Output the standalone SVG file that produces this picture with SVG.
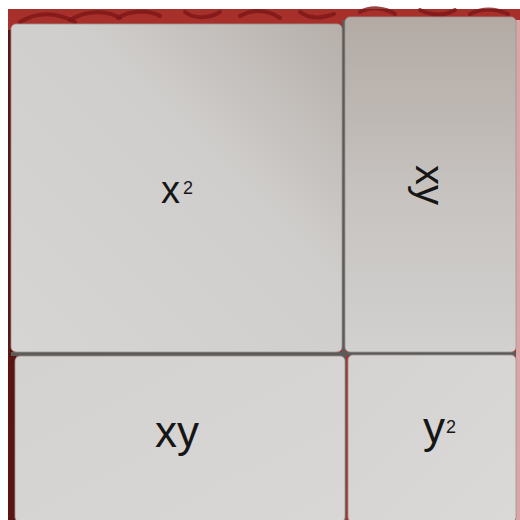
<svg xmlns="http://www.w3.org/2000/svg" width="520" height="520" viewBox="0 0 520 520">
  <defs>
    <linearGradient id="gTL" x1="0" y1="1" x2="1" y2="0">
      <stop offset="0" stop-color="#d6d5d4"/>
      <stop offset="0.6" stop-color="#d0cecc"/>
      <stop offset="1" stop-color="#b6afaa"/>
    </linearGradient>
    <linearGradient id="gTR" x1="0" y1="0" x2="0" y2="1">
      <stop offset="0" stop-color="#b3aaa4"/>
      <stop offset="0.5" stop-color="#c6c2bf"/>
      <stop offset="1" stop-color="#d2d1d0"/>
    </linearGradient>
    <linearGradient id="gBL" x1="0" y1="0" x2="1" y2="1">
      <stop offset="0" stop-color="#d3d2d1"/>
      <stop offset="1" stop-color="#d8d7d6"/>
    </linearGradient>
    <linearGradient id="gBR" x1="0" y1="0" x2="1" y2="1">
      <stop offset="0" stop-color="#d4d3d2"/>
      <stop offset="1" stop-color="#dad9d8"/>
    </linearGradient>
    <style>
      .lbl { font-family: "Liberation Sans", Arial, sans-serif; fill: #161616; }
      .tile { stroke: #9a9592; stroke-width: 0.8; }
      .swirl { fill: none; stroke: #7c1818; stroke-width: 4; stroke-linecap: round; opacity: 0.8; }
    </style>
  </defs>

  <!-- photo margin and tablecloth -->
  <rect x="0" y="0" width="520" height="520" fill="#ffffff"/>
  <rect x="8" y="9" width="512" height="511" fill="#a8302b"/>
  <rect x="8" y="30" width="8" height="490" fill="#5c1412"/>
  <rect x="516" y="20" width="4" height="500" fill="#d9a5a5"/>
  <g id="cloth-pattern">
    <path class="swirl" d="M20 22 C40 10 60 14 75 22"/>
    <path class="swirl" d="M70 20 C90 8 110 12 120 18"/>
    <path class="swirl" d="M118 18 C130 10 150 10 160 16"/>
    <path class="swirl" d="M185 12 C195 20 210 18 220 12"/>
    <path class="swirl" d="M240 16 C255 8 268 10 280 18"/>
    <path class="swirl" d="M300 12 C312 20 322 18 334 14"/>
    <path class="swirl" d="M360 12 C372 6 385 8 395 14"/>
    <path class="swirl" d="M420 10 C432 16 445 16 455 10"/>
    <path class="swirl" d="M470 14 C482 8 495 8 508 14"/>
  </g>

  <!-- gap shadows -->
  <rect x="342" y="20" width="4" height="500" fill="#5e5a58"/>
  <rect x="11" y="352" width="505" height="4" fill="#5e5a58"/>

  <g id="tile-x2">
    <rect class="tile" x="11" y="24" width="331" height="328" rx="5" fill="url(#gTL)"/>
    <text class="lbl" x="161" y="203" font-size="38">x</text>
    <text class="lbl" x="183" y="194" font-size="18">2</text>
  </g>

  <g id="tile-xy-vertical">
    <rect class="tile" x="345" y="17" width="171" height="335" rx="5" fill="url(#gTR)"/>
    <text class="lbl" font-size="40" transform="translate(416,165) rotate(90)">xy</text>
  </g>

  <g id="tile-xy">
    <rect class="tile" x="15" y="356" width="330" height="166" rx="5" fill="url(#gBL)"/>
    <text class="lbl" x="155" y="447" font-size="44">xy</text>
  </g>

  <g id="tile-y2">
    <rect class="tile" x="348" y="355" width="168" height="167" rx="5" fill="url(#gBR)"/>
    <text class="lbl" x="423" y="443" font-size="44">y</text>
    <text class="lbl" x="446" y="433" font-size="18">2</text>
  </g>
</svg>
